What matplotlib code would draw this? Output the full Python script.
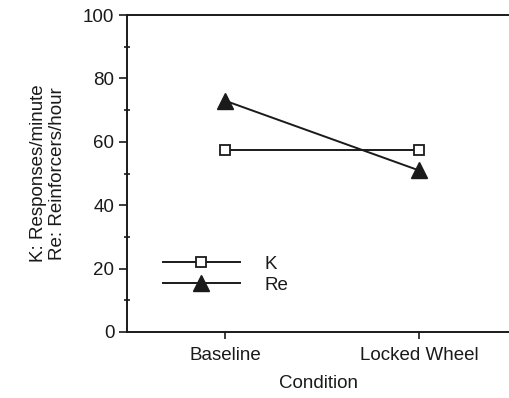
import matplotlib
matplotlib.use("Agg")
import matplotlib.pyplot as plt
from matplotlib.ticker import MultipleLocator

conditions = ["Baseline", "Locked Wheel"]
k_values = [57.5, 57.5]
re_values = [73, 51]
y_ticks = [0, 20, 40, 60, 80, 100]

plt.rcParams['font.family'] = ['Liberation Sans', 'DejaVu Sans']
plt.rcParams['font.size'] = 13.5

fig = plt.figure(figsize=(5.1, 3.98), dpi=100)
ax = fig.add_axes([0.249, 0.166, 0.751, 0.796])

x = [1, 2]
ax.plot(x, k_values, color='#1a1a1a', lw=1.4, marker='s', markersize=7.5,
        markerfacecolor='white', markeredgecolor='#1a1a1a', markeredgewidth=1.3, label='K')
ax.plot(x, re_values, color='#1a1a1a', lw=1.4, marker='^', markersize=11,
        markerfacecolor='#1a1a1a', markeredgecolor='#1a1a1a', label='Re')

ax.set_xlim(0.495, 2.47)
ax.set_ylim(0, 100)
ax.set_xticks(x)
ax.set_xticklabels(conditions)
ax.set_yticks(y_ticks)
ax.yaxis.set_minor_locator(MultipleLocator(10))

for s in ['top', 'bottom', 'left']:
    ax.spines[s].set_linewidth(1.4)
    ax.spines[s].set_color('#1a1a1a')
ax.spines['right'].set_visible(False)

ax.tick_params(axis='y', which='major', direction='out', length=6, width=1.2, colors='#1a1a1a', pad=3)
ax.tick_params(axis='y', which='minor', direction='inout', length=5, width=1.2, colors='#1a1a1a')
ax.tick_params(axis='x', which='major', direction='out', length=5, width=1.2, colors='#1a1a1a', pad=6)
for lab in ax.get_xticklabels() + ax.get_yticklabels():
    lab.set_color('#1a1a1a')

ax.set_xlabel('Condition', labelpad=8, color='#1a1a1a')
ax.set_ylabel('K: Responses/minute\nRe: Reinforcers/hour', labelpad=12, color='#1a1a1a')

leg = ax.legend(loc='lower left', bbox_to_anchor=(0.094, 0.12), frameon=False,
                handlelength=4.1, handletextpad=1.3, labelspacing=0.2,
                borderaxespad=0, borderpad=0)
for t in leg.get_texts():
    t.set_color('#1a1a1a')

fig.savefig('out.png', dpi=100)
